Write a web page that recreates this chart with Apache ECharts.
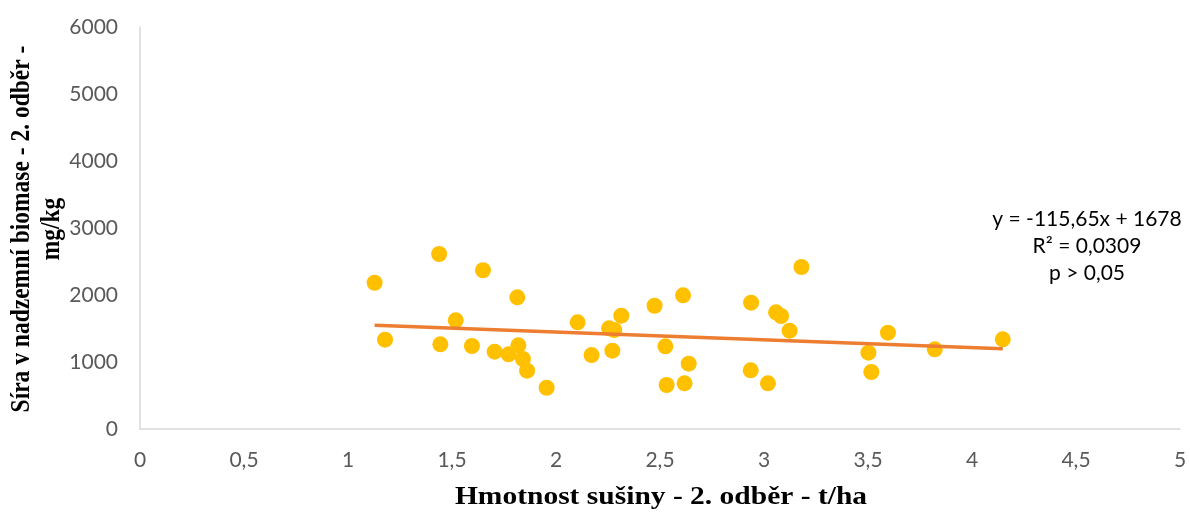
<!DOCTYPE html>
<html>
<head>
<meta charset="utf-8">
<script src="https://cdn.jsdelivr.net/npm/echarts@6/dist/echarts.min.js"></script>
<style>
html, body { margin: 0; padding: 0; background: #fff; }
#chart { width: 1190px; height: 513px; }
</style>
</head>
<body>
<div id="chart"></div>
<script>
// hmotnost susiny (t/ha) a obsah siry (mg/kg)
var xVals = [1.128, 1.438, 1.649, 1.814, 1.518, 1.178, 1.444, 1.596, 1.705, 1.772,
    1.819, 1.841, 1.861, 1.955, 2.104, 2.171, 2.255, 2.280, 2.314, 2.271,
    2.474, 2.611, 2.526, 2.638, 2.532, 2.618, 2.938, 3.058, 3.082, 3.123,
    3.180, 2.936, 3.019, 3.596, 3.502, 3.516, 3.821, 4.148];
var yVals = [2183, 2612, 2369, 1965, 1622, 1333, 1264, 1239, 1154, 1115,
    1249, 1045, 870, 616, 1592, 1104, 1503, 1478, 1691, 1169,
    1840, 1995, 1234, 975, 657, 682, 1885, 1742, 1687, 1467,
    2418, 876, 682, 1438, 1139, 851, 1189, 1339];
var slope = -115.65, intercept = 1678;
var eqLines = ['y = -115,65x + 1678', 'R² = 0,0309', 'p > 0,05'];

var points = xVals.map(function (x, i) { return [x, yVals[i]]; });
var xMin = Math.min.apply(null, xVals), xMax = Math.max.apply(null, xVals);
var trend = [[xMin, slope * xMin + intercept], [xMax, slope * xMax + intercept]];

var myChart = echarts.init(document.getElementById('chart'));
var lbl = { color: '#595959', fontSize: 21, fontFamily: 'Lato, "Open Sans", sans-serif' };

var option = {
    animation: false,
    grid: { left: 140, right: 10, top: 27, bottom: 84 },
    xAxis: {
        type: 'value', min: 0, max: 5, interval: 0.5,
        axisLine: { lineStyle: { color: '#d9d9d9', width: 1.5 } },
        axisTick: { show: false },
        splitLine: { show: false },
        axisLabel: Object.assign({ margin: 21, formatter: function (v) { return String(v).replace('.', ','); } }, lbl)
    },
    yAxis: {
        type: 'value', min: 0, max: 6000, interval: 1000,
        axisLine: { show: true, lineStyle: { color: '#d9d9d9', width: 1.5 } },
        axisTick: { show: false },
        splitLine: { show: false },
        axisLabel: Object.assign({ margin: 22, formatter: function (v) { return String(v); } }, lbl)
    },
    graphic: [
        {
            type: 'text', x: 37, y: 229, rotation: Math.PI / 2, scaleY: 1.15,
            style: {
                text: 'Síra v nadzemní biomase - 2. odběr -\nmg/kg',
                font: 'bold 23.5px "Liberation Serif", "DejaVu Serif", serif',
                fill: '#000', align: 'center', verticalAlign: 'middle', lineHeight: 26
            }
        },
        {
            type: 'text', x: 661, y: 498, scaleX: 1.18,
            style: {
                text: 'Hmotnost sušiny - 2. odběr - t/ha',
                font: 'bold 25px "Liberation Serif", "DejaVu Serif", serif',
                fill: '#000', align: 'center', verticalAlign: 'middle'
            }
        },
        {
            type: 'text', x: 1087, y: 246,
            style: {
                text: eqLines.join('\n'),
                font: '21px Lato, "Open Sans", sans-serif',
                fill: '#000', align: 'center', verticalAlign: 'middle', lineHeight: 27
            }
        }
    ],
    series: [
        {
            type: 'scatter', data: points, symbolSize: 16,
            itemStyle: { color: '#FFC000', opacity: 1 }, z: 2
        },
        {
            type: 'line', data: trend, symbol: 'none',
            lineStyle: { color: '#ED7D31', width: 3.5 }, z: 3
        }
    ]
};
myChart.setOption(option);
</script>
</body>
</html>
